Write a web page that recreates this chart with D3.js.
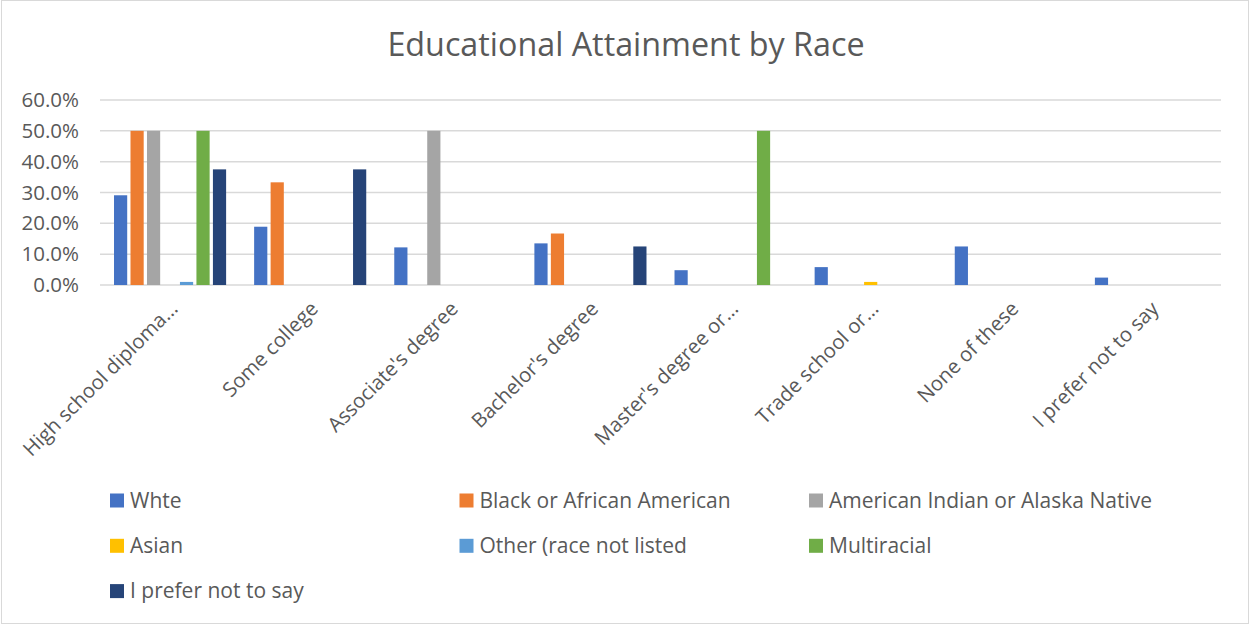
<!DOCTYPE html>
<html>
<head>
<meta charset="utf-8">
<script src="https://cdn.jsdelivr.net/npm/d3@7"></script>
<style>
  body { margin: 0; background: #fff; }
  text { font-family: "Open Sans", sans-serif; fill: #595959; }
</style>
</head>
<body>
<div class="wrap-chart"></div>
<script>
var categories = ["High school diploma...", "Some college", "Associate's degree", "Bachelor's degree",
  "Master's degree or...", "Trade school or...", "None of these", "I prefer not to say"];
var seriesNames = ["Whte", "Black or African American", "American Indian or Alaska Native",
  "Asian", "Other (race not listed", "Multiracial", "I prefer not to say"];
var seriesColors = ["#4472C4", "#ED7D31", "#A5A5A5", "#FFC000", "#5B9BD5", "#70AD47", "#264478"];
var yTicks = [0, 0.1, 0.2, 0.3, 0.4, 0.5, 0.6];

var white      = [0.291, 0.189, 0.122, 0.135, 0.048, 0.058, 0.125, 0.024];
var black      = [0.500, 0.333, 0,     0.167, 0,     0,     0,     0];
var amIndian   = [0.500, 0,     0.500, 0,     0,     0,     0,     0];
var asian      = [0,     0,     0,     0,     0,     0.010, 0,     0];
var other      = [0.010, 0,     0,     0,     0,     0,     0,     0];
var multiracial= [0.500, 0,     0,     0,     0.500, 0,     0,     0];
var preferNot  = [0.375, 0.375, 0,     0.125, 0,     0,     0,     0];
var seriesValues = [white, black, amIndian, asian, other, multiracial, preferNot];

var
  width = 1250,
  height = 624,
  plot = { left: 100, right: 1221, top: 100, bottom: 285 };

var svg = d3.select(".wrap-chart")
  .append("svg")
  .attr("width", width)
  .attr("height", height);

// chart border
svg.append("rect")
  .attr("x", 1.5).attr("y", 0.5)
  .attr("width", width - 3).attr("height", height - 1)
  .attr("fill", "#fff")
  .attr("stroke", "#D9D9D9")
  .attr("stroke-width", 1);

svg.append("text")
  .attr("x", 626)
  .attr("y", 56)
  .attr("text-anchor", "middle")
  .style("font-size", "32.3px")
  .text("Educational Attainment by Race");

var x = d3.scaleBand()
  .domain(categories)
  .range([plot.left, plot.right]);

var xs = d3.scaleBand()
  .domain(seriesNames)
  .range([0, x.bandwidth()])
  .paddingInner(0.2)
  .paddingOuter(0.85);

var y = d3.scaleLinear()
  .domain([0, 0.6])
  .range([plot.bottom, plot.top]);

// gridlines
svg.append("g")
  .selectAll("line")
  .data(yTicks).enter()
  .append("line")
  .attr("x1", plot.left)
  .attr("x2", plot.right)
  .attr("y1", function (d) { return y(d); })
  .attr("y2", function (d) { return y(d); })
  .attr("stroke", "#D9D9D9")
  .attr("stroke-width", 1.5);

// y axis labels
var yAxis = d3.axisLeft(y)
  .tickValues(yTicks)
  .tickFormat(d3.format(".1%"))
  .tickSize(0)
  .tickPadding(0);

var yg = svg.append("g")
  .attr("transform", "translate(79,0)")
  .call(yAxis);
yg.select(".domain").remove();
yg.selectAll("text")
  .style("font-family", "'Open Sans', sans-serif")
  .style("font-size", "20.5px")
  .attr("fill", "#595959");

// bars
var seriesGroups = svg.append("g")
  .selectAll("g")
  .data(seriesNames).enter()
  .append("g")
  .attr("fill", function (d, i) { return seriesColors[i]; });

seriesGroups.selectAll("rect")
  .data(function (d, i) {
    return categories.map(function (c, j) {
      return { cat: c, series: d, value: seriesValues[i][j] };
    });
  }).enter()
  .filter(function (d) { return d.value > 0; })
  .append("rect")
  .attr("x", function (d) { return x(d.cat) + xs(d.series); })
  .attr("width", xs.bandwidth())
  .attr("y", function (d) { return y(d.value); })
  .attr("height", function (d) { return y(0) - y(d.value); });

// x labels, rotated
var xAxis = d3.axisBottom(x).tickSize(0).tickPadding(0);
var xg = svg.append("g")
  .attr("transform", "translate(0,305)")
  .call(xAxis);
xg.select(".domain").remove();
xg.selectAll("text")
  .style("font-family", "'Open Sans', sans-serif")
  .style("font-size", "20.3px")
  .attr("fill", "#595959")
  .attr("text-anchor", "end")
  .attr("y", 0)
  .attr("dy", "0.35em")
  .attr("transform", "translate(4,0) rotate(-45)");

// legend
var legend = svg.append("g")
  .selectAll("g")
  .data(seriesNames).enter()
  .append("g")
  .attr("transform", function (d, i) {
    return "translate(" + (110 + (i % 3) * 349.5) + "," + (500.5 + Math.floor(i / 3) * 45.3) + ")";
  });

legend.append("rect")
  .attr("x", 0).attr("y", -7)
  .attr("width", 14).attr("height", 14)
  .attr("fill", function (d, i) { return seriesColors[i]; });

legend.append("text")
  .attr("x", 20)
  .attr("dy", "0.35em")
  .style("font-size", "21px")
  .text(function (d) { return d; });
</script>
</body>
</html>
